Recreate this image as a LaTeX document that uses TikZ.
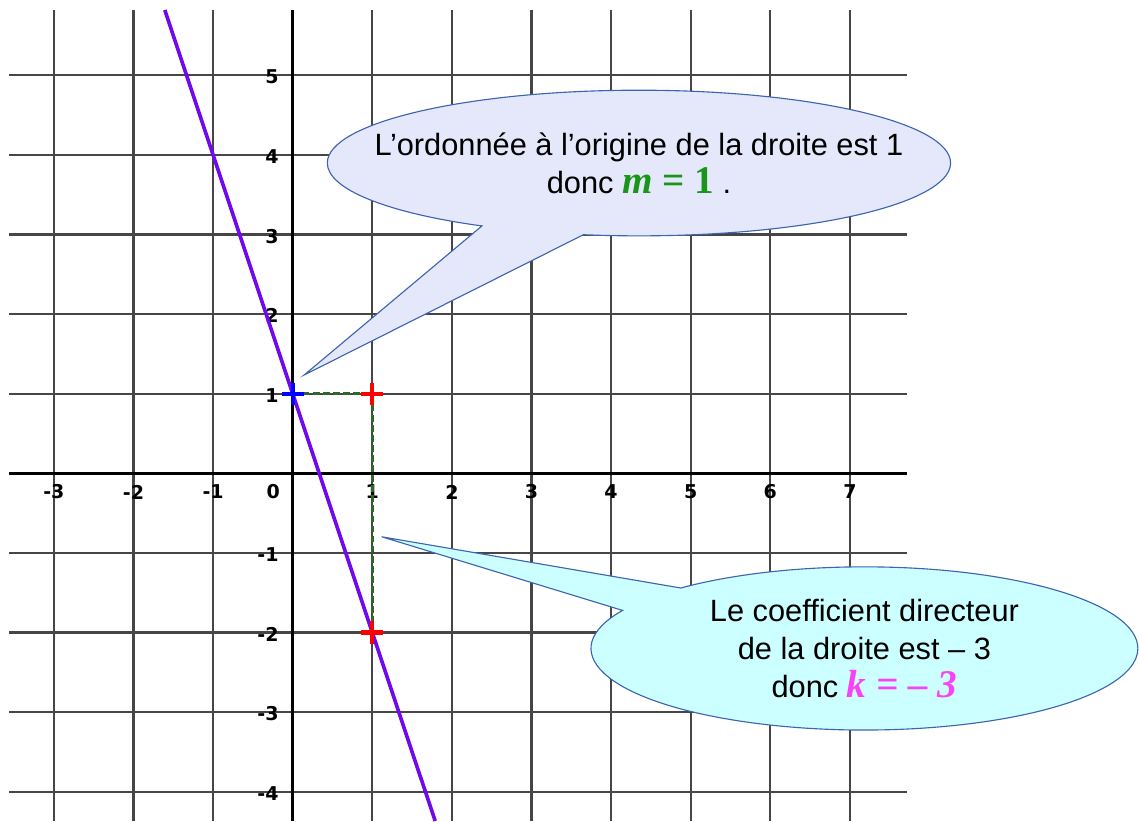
\documentclass[tikz,border=0pt]{standalone}
\usepackage{fontspec}
\setmainfont{Liberation Sans}
\newfontfamily\timesbf{Liberation Serif}
\newfontfamily\ticksfont{DejaVu Sans}
\usepackage{xcolor}
\definecolor{gridgray}{RGB}{70,70,70}
\definecolor{droite}{RGB}{110,10,235}
\definecolor{guide}{RGB}{45,105,45}
\definecolor{lavande}{RGB}{229,231,250}
\definecolor{cyanpale}{RGB}{204,255,255}
\definecolor{bord}{RGB}{60,100,175}
\definecolor{vert}{RGB}{25,150,25}
\definecolor{rose}{RGB}{250,65,250}
\usetikzlibrary{shapes.callouts}

\begin{document}
\begin{tikzpicture}[
    grille/.style={draw=gridgray, line width=0.8pt},
    axe/.style={draw=black, line width=1.2pt},
    graduation/.style={font=\ticksfont\bfseries\fontsize{6.8}{8}\selectfont, inner sep=0pt},
    pointille/.style={draw=guide, line width=1pt, dash pattern=on 2.4pt off 1.2pt},
    croix/.style={line width=1.5pt},
    bulle/.style={ellipse callout, draw=bord, line width=0.4pt, inner sep=0pt,
      callout pointer arc=20},
    texte/.style={align=center, font=\fontsize{11}{13.6}\selectfont}
]
\useasboundingbox (-3.677,-4.368) rectangle (10.632,5.946);
\foreach \y in {-4,...,5} \draw[grille] (-3.56,\y) -- (7.72,\y);
\foreach \x in {-3,...,7} \draw[grille] (\x,-4.368) -- (\x,5.82);
\draw[axe] (-3.56,0) -- (7.72,0);
\draw[axe] (0,-4.368) -- (0,5.82);
\foreach \x in {-3,-2,-1,1,2,3,4,5,6,7} \node[graduation] at (\x,-0.235) {\x};
\node[graduation] at (-0.244,-0.235) {0};
\foreach \y in {-4,-3,-2,-1,1,2,3,4,5} \node[graduation, anchor=east] at (-0.17,\y-0.02) {\y};

\coordinate (haut) at (-1.607,5.82);
\coordinate (bas) at (1.79,-4.368);
\draw[draw=droite, line width=1.3pt] (haut) -- (bas);

\coordinate (B) at (0,1);
\coordinate (P) at (1,1);
\coordinate (Q) at (1,-2);
\draw[pointille] (B) -- (P) -- (Q);
\foreach \p/\c in {B/blue, P/red, Q/red}
  \draw[croix, draw=\c] (\p) +(-0.14,0) -- +(0.14,0) (\p) +(0,-0.14) -- +(0,0.14);

\coordinate (pointe1) at (0.144,1.235);
\coordinate (pointe2) at (1.118,-0.797);
\node[bulle, fill=lavande, minimum width=7.83cm, minimum height=1.83cm,
  callout absolute pointer={(pointe1)}] (ordo) at (4.35,3.898) {};
\node[texte] (ordotxt) at (ordo.center) {L’ordonnée à l’origine de la droite est 1\\donc {\color{vert}\timesbf\fontsize{14}{13.6}\selectfont\bfseries\itshape m \upshape= 1} .};
\node[bulle, fill=cyanpale, minimum width=6.87cm, minimum height=2.05cm,
  callout absolute pointer={(pointe2)}] (coef) at (7.183,-2.2) {};
\node[texte] (coeftxt) at (coef.center) {Le coefficient directeur\\de la droite est – 3\\donc {\color{rose}\timesbf\fontsize{14}{13.6}\selectfont\bfseries\itshape k = – 3}};
\end{tikzpicture}
\end{document}
